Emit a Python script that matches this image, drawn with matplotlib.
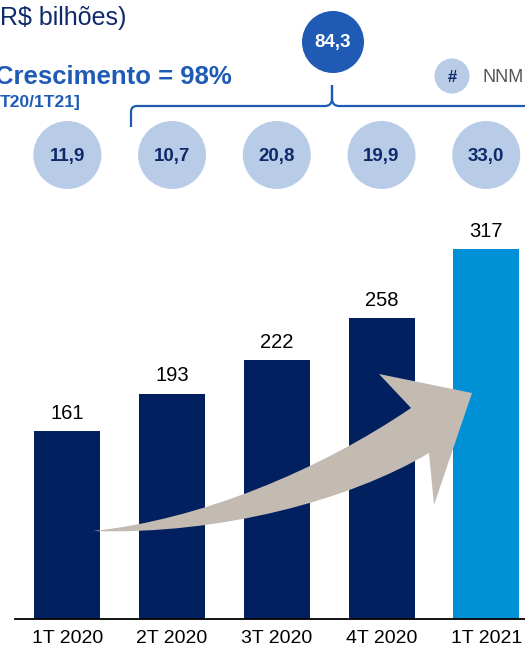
import matplotlib
matplotlib.use("Agg")
import matplotlib.pyplot as plt
from matplotlib.patches import Circle, PathPatch
from matplotlib.path import Path

plt.rcParams['font.family'] = ['Liberation Sans', 'DejaVu Sans']

# data
quarters = ['1T 2020', '2T 2020', '3T 2020', '4T 2020', '1T 2021']
aum = [161, 193, 222, 258, 317]
nnm = ['11,9', '10,7', '20,8', '19,9', '33,0']
nnm_total = '84,3'

navy = '#00205F'
light = '#0090D6'
bubble = '#B8CCE8'
blue = '#1F5BB5'
dark_txt = '#0F2A6B'

fig = plt.figure(figsize=(5.25, 6.51), dpi=100)

# bar axes: baseline at y=619px, left edge at 15px
ax = fig.add_axes([15 / 525, 32 / 651, 510 / 525, 419 / 651])
colors = [navy] * 4 + [light]
bars = ax.bar(range(len(aum)), aum, width=0.63, color=colors, zorder=2)
ax.set_xlim(-0.5, 4.37)
ax.set_ylim(0, 359)
for b, v in zip(bars, aum):
    ax.annotate(str(v), (b.get_x() + b.get_width() / 2, v), xytext=(0, 6),
                textcoords='offset points', ha='center', va='bottom', fontsize=14.5)
ax.set_xticks(range(len(quarters)))
ax.set_xticklabels(quarters, fontsize=14)
ax.tick_params(axis='x', length=0, pad=8)
ax.set_yticks([])
for s in ['top', 'left', 'right']:
    ax.spines[s].set_visible(False)
ax.spines['bottom'].set_linewidth(1.3)

# overlay in pixel coordinates
ov = fig.add_axes([0, 0, 1, 1], zorder=5)
ov.set_xlim(0, 525)
ov.set_ylim(651, 0)
ov.axis('off')

fig.canvas.draw()
bar_px = [ax.transData.transform((i, 0))[0] for i in range(len(aum))]

# growth arrow
verts = [(93, 531), (200, 520), (320, 470), (411, 408),
         (379, 374), (472, 393), (434, 505), (429, 453),
         (350, 500), (220, 535), (93, 531), (93, 531)]
codes = [Path.MOVETO, Path.CURVE4, Path.CURVE4, Path.CURVE4,
         Path.LINETO, Path.LINETO, Path.LINETO, Path.LINETO,
         Path.CURVE4, Path.CURVE4, Path.CURVE4, Path.CLOSEPOLY]
ov.add_patch(PathPatch(Path(verts, codes), facecolor='#C3BAB1', edgecolor='none'))

# NNM bubbles
for x, lab in zip(bar_px, nnm):
    ov.add_patch(Circle((x, 155), 34, facecolor=bubble, edgecolor='none'))
    ov.text(x, 156, lab, ha='center', va='center', fontsize=13.5,
            fontweight='bold', color=dark_txt)

# total bubble
ov.add_patch(Circle((333, 42), 31, facecolor=blue, edgecolor='none'))
ov.text(333, 43, nnm_total, ha='center', va='center', fontsize=13.5,
        fontweight='bold', color='white')

# bracket
bverts = [(131, 127), (131, 112), (131, 106), (137, 106),
          (325, 106), (331, 106), (332, 100), (332, 85),
          (332, 100), (333, 106), (339, 106), (525, 106)]
bcodes = [Path.MOVETO, Path.LINETO, Path.CURVE3, Path.CURVE3,
          Path.LINETO, Path.CURVE3, Path.CURVE3, Path.LINETO,
          Path.LINETO, Path.CURVE3, Path.CURVE3, Path.LINETO]
ov.add_patch(PathPatch(Path(bverts, bcodes), facecolor='none', edgecolor=blue, lw=1.6))

# legend
ov.add_patch(Circle((452, 76), 17.5, facecolor=bubble, edgecolor='none'))
ov.text(452, 77, '#', ha='center', va='center', fontsize=12, fontweight='bold', color=dark_txt)
ov.text(482, 77, 'NNM', ha='left', va='center', fontsize=13, color='#555555')

# titles
ov.text(0, 18, 'R$ bilhões)', ha='left', va='center', fontsize=18, color=dark_txt)
ov.text(-5, 77, 'Crescimento = 98%', ha='left', va='center', fontsize=18.5,
        fontweight='bold', color=blue)
ov.text(0, 102, 'T20/1T21]', ha='left', va='center', fontsize=12.5,
        fontweight='bold', color=blue)

fig.savefig('out.png', dpi=100)
